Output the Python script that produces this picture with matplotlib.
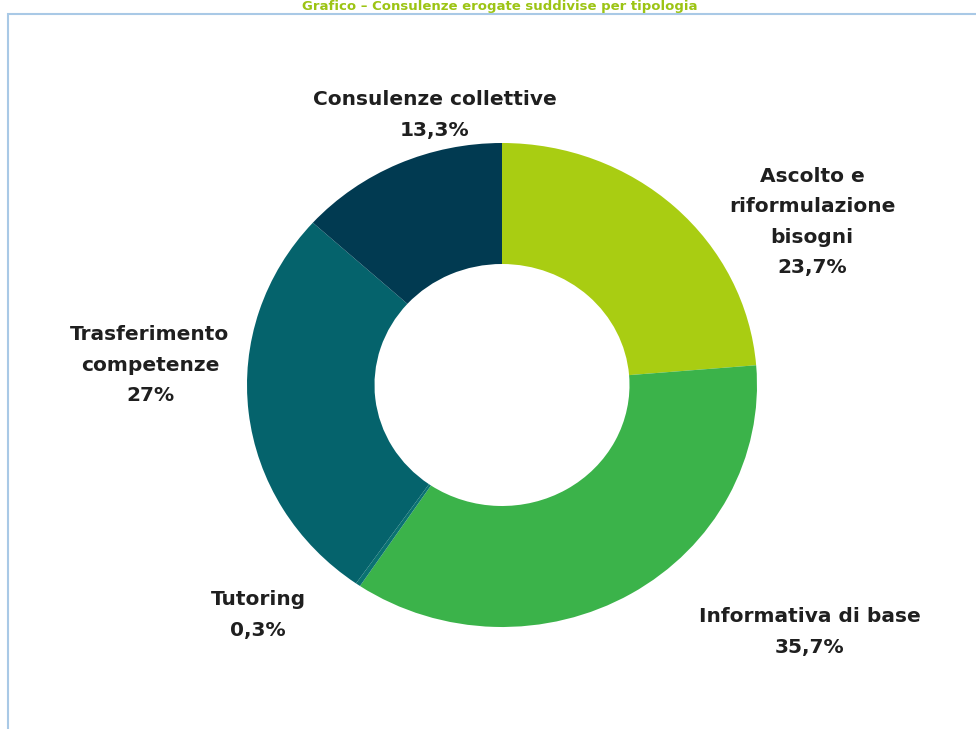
import matplotlib
matplotlib.use("Agg")
import matplotlib.pyplot as plt
from matplotlib.patches import Rectangle

W, H = 976, 729

categories = ["Ascolto e\nriformulazione\nbisogni", "Informativa di base", "Tutoring",
              "Trasferimento\ncompetenze", "Consulenze collettive"]
values = [23.7, 35.7, 0.3, 27.0, 13.3]
value_labels = ["23,7%", "35,7%", "0,3%", "27%", "13,3%"]
colors = ["#a9cd12", "#3bb34a", "#0a7272", "#05636c", "#013a51"]
title = "Grafico – Consulenze erogate suddivise per tipologia"

plt.rcParams['font.family'] = ['DejaVu Sans']

fig = plt.figure(figsize=(W / 100, H / 100), dpi=100)
ax = fig.add_axes([0, 0, 1, 1])
ax.set_xlim(0, W)
ax.set_ylim(0, H)
ax.axis('off')

def py(y):
    return H - y

# border box
ax.add_patch(Rectangle((8, py(900)), 1200, 900 - 14, fill=False,
                       edgecolor="#a9c9e6", linewidth=1.5))

# title
ax.text(500, py(6), title, ha='center', va='center', fontsize=9.5,
        fontweight='bold', color="#9cc414")

# donut in its own axes (slightly wider than tall, as in the reference)
cx, cy = 502, 385
rx, ry = 255, 242
pax = fig.add_axes([(cx - rx) / W, (H - cy - ry) / H, 2 * rx / W, 2 * ry / H])
pax.pie(values, colors=colors, startangle=90, counterclock=False,
        radius=1, wedgeprops=dict(width=0.5, linewidth=0))
pax.set_aspect('auto')
pax.set_xlim(-1, 1)
pax.set_ylim(-1, 1)
pax.axis('off')

label_pos = [(812, 222), (810, 632), (258, 615), (150, 365), (435, 115)]
for (x, y), c, v in zip(label_pos, categories, value_labels):
    ax.text(x, py(y), c + "\n" + v, ha='center', va='center', fontsize=14.5,
            fontweight='bold', color="#1f1f1f", linespacing=1.75)

fig.savefig("out.png", dpi=100)
